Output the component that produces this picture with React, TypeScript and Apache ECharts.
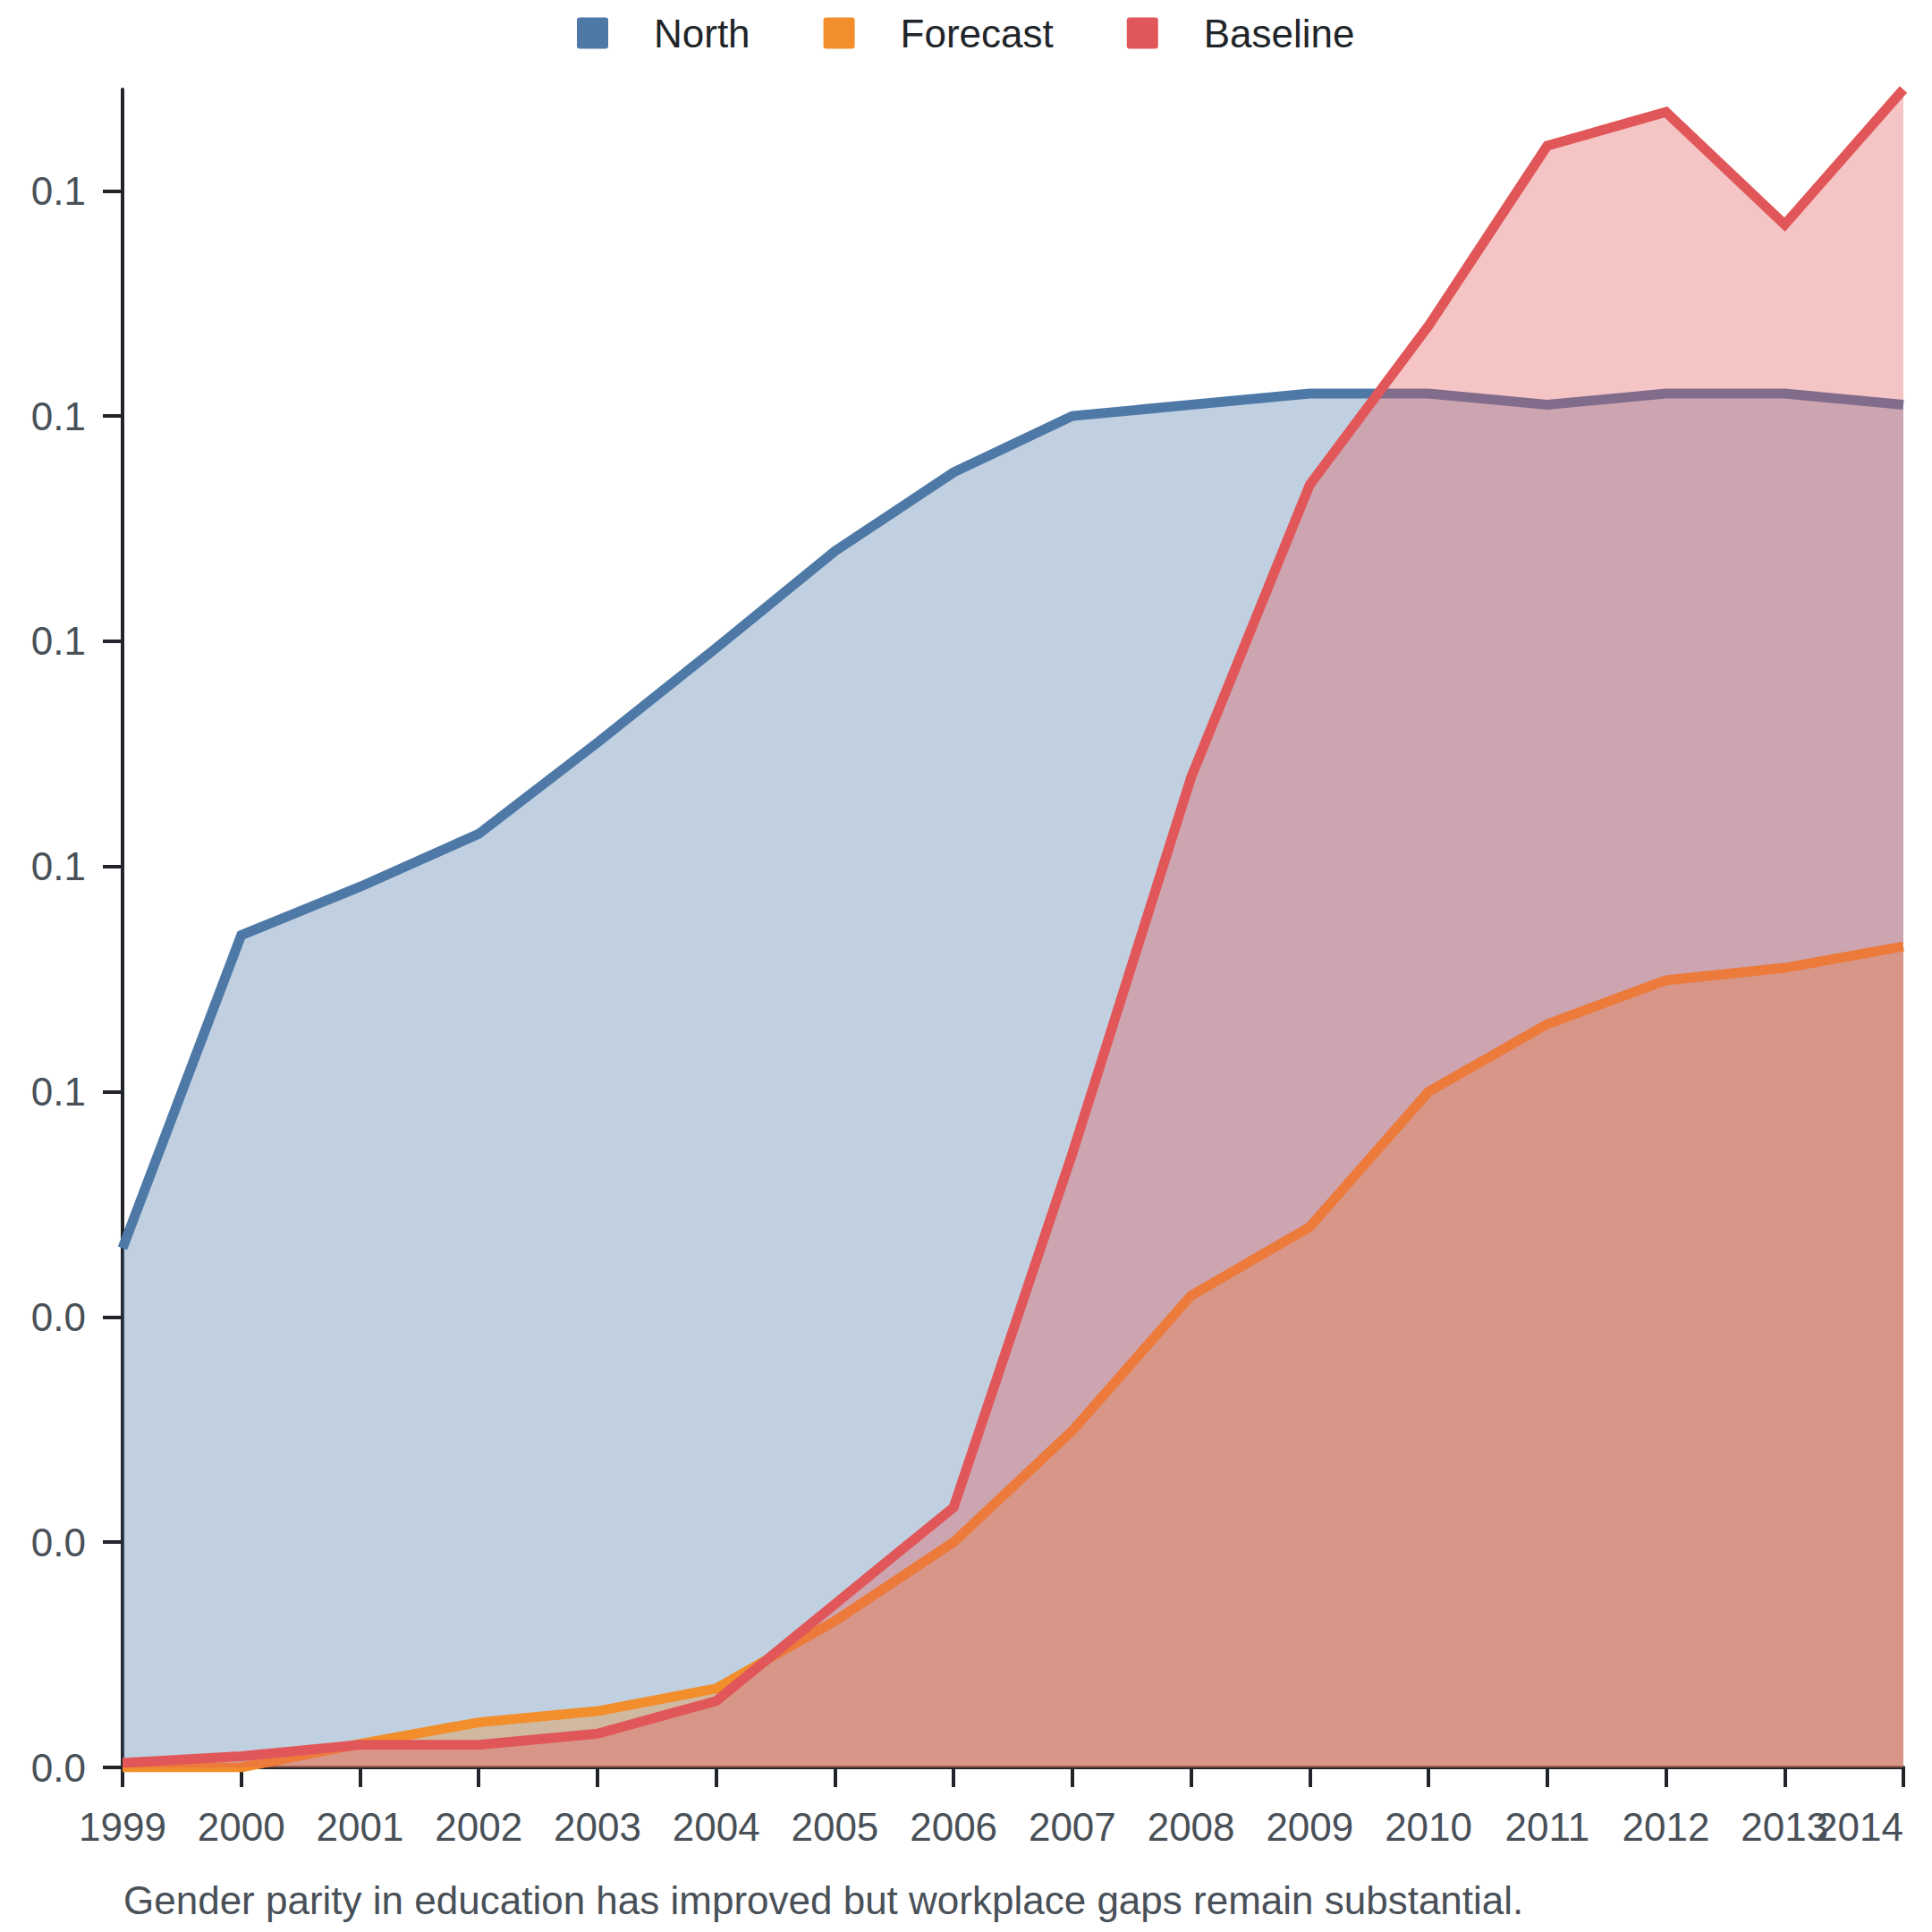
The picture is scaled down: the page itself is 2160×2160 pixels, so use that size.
import React, { useEffect, useRef } from "react";
import * as echarts from "echarts";

const years = ["1999","2000","2001","2002","2003","2004","2005","2006","2007","2008","2009","2010","2011","2012","2013","2014"];
const north = [0.0461, 0.0739, 0.0782, 0.0829, 0.0910, 0.0994, 0.1080, 0.1150, 0.1200, 0.1210, 0.1220, 0.1220, 0.1210, 0.1220, 0.1220, 0.1210];
const forecast = [0, 0, 0.0021, 0.0040, 0.0050, 0.0070, 0.0130, 0.0200, 0.0299, 0.0419, 0.0480, 0.0600, 0.0660, 0.0699, 0.0710, 0.0729];
const baseline = [0.0004, 0.0010, 0.0020, 0.0020, 0.0030, 0.0059, 0.0145, 0.0231, 0.0545, 0.0879, 0.1139, 0.1280, 0.1440, 0.1470, 0.1370, 0.1490];
const yTicks = [0, 0.02, 0.04, 0.06, 0.08, 0.1, 0.12, 0.14];
const seriesNames = ["North", "Forecast", "Baseline"];
const seriesColors = ["#4e79a7", "#f28e2b", "#e15759"];
const caption = "Gender parity in education has improved but workplace gaps remain substantial.";

const FONT = "'Liberation Sans', Arial, Helvetica, sans-serif";
const ICON = "path://M3,0 H32 Q35,0 35,3 V32 Q35,35 32,35 H3 Q0,35 0,32 V3 Q0,0 3,0 Z";

export default function App() {
  const ref = useRef<HTMLDivElement>(null);
  useEffect(() => {
    if (!ref.current) return;
    const chart = echarts.init(ref.current, undefined, { renderer: "svg" });
    const data = [north, forecast, baseline];
    chart.setOption({
      animation: false,
      backgroundColor: "#ffffff",
      textStyle: { fontFamily: FONT },
      legend: {
        top: 15,
        left: 645,
        padding: 0,
        itemWidth: 35,
        itemHeight: 35,
        itemGap: 82,
        icon: ICON,
        data: seriesNames,
        textStyle: { fontSize: 44, color: "#212529", fontFamily: FONT, padding: [0, 0, 0, 46] },
      },
      grid: { left: 137, right: 32, top: 100, bottom: 184, containLabel: false },
      xAxis: {
        type: "category",
        data: years,
        boundaryGap: false,
        axisLine: { show: true, lineStyle: { color: "#212529", width: 4 } },
        axisTick: { show: true, length: 22, interval: 0, lineStyle: { color: "#212529", width: 4 } },
        axisLabel: { interval: 0, fontSize: 44, color: "#495057", margin: 44, fontFamily: FONT, alignMaxLabel: "right" },
        splitLine: { show: false },
      },
      yAxis: {
        type: "value",
        min: 0,
        max: "dataMax",
        axisLine: { show: true, lineStyle: { color: "#212529", width: 4 } },
        axisTick: { show: true, length: 22, lineStyle: { color: "#212529", width: 4 }, customValues: yTicks },
        axisLabel: {
          fontSize: 44,
          color: "#495057",
          margin: 41,
          fontFamily: FONT,
          customValues: yTicks,
          formatter: (v: number) => v.toFixed(1),
        },
        splitLine: { show: false },
      },
      series: seriesNames.map((name, i) => ({
        name,
        type: "line",
        data: data[i],
        showSymbol: false,
        symbol: "none",
        color: seriesColors[i],
        lineStyle: { width: 11, color: seriesColors[i], join: "miter" },
        areaStyle: { color: seriesColors[i], opacity: 0.35 },
        z: 2 + i,
      })),
      graphic: [
        {
          type: "text",
          left: 138,
          top: 2102,
          style: { text: caption, fontSize: 44, fill: "#495057", fontFamily: FONT },
        },
      ],
    });
    return () => chart.dispose();
  }, []);
  return <div ref={ref} style={{ position: "fixed", left: 0, top: 0, width: 2160, height: 2160 }} />;
}
